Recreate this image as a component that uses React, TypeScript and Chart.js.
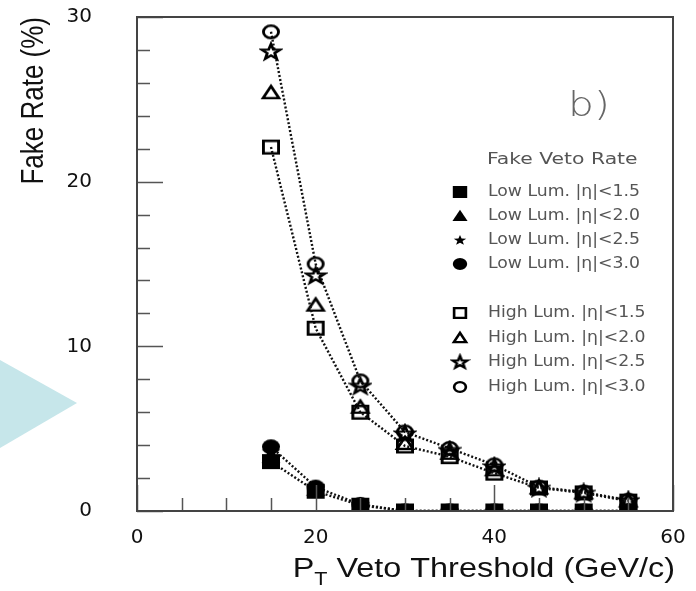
import React, { useEffect, useRef } from "react";
import { Chart, registerables } from "chart.js";

Chart.register(...registerables);

// ---------------- data ----------------
const thresholds = [15, 20, 25, 30, 35, 40, 45, 50, 55];

const lowEta15 = [3.0, 1.2, 0.35, 0, 0, 0, 0, 0, 0];
const lowEta20 = [3.3, 1.3, 0.35, 0, 0, 0, 0, 0, 0];
const lowEta25 = [3.6, 1.4, 0.4, 0, 0, 0, 0, 0, 0];
const lowEta30 = [3.9, 1.45, 0.4, 0, 0, 0, 0, 0, 0];

const highEta15 = [22.1, 11.1, 6.0, 3.95, 3.3, 2.3, 1.4, 1.1, 0.6];
const highEta20 = [25.4, 12.5, 6.3, 4.1, 3.5, 2.5, 1.4, 1.1, 0.6];
const highEta25 = [27.9, 14.3, 7.6, 4.7, 3.7, 2.7, 1.4, 1.1, 0.65];
const highEta30 = [29.1, 15.0, 7.9, 4.8, 3.8, 2.8, 1.45, 1.15, 0.65];

const lowLabels = ["Low Lum. |η|<1.5", "Low Lum. |η|<2.0", "Low Lum. |η|<2.5", "Low Lum. |η|<3.0"];
const highLabels = ["High Lum. |η|<1.5", "High Lum. |η|<2.0", "High Lum. |η|<2.5", "High Lum. |η|<3.0"];
const legendTitle = "Fake Veto Rate";
const panelLabel = "b)";

const xMin = 0;
const xMax = 60;
const xMajorStep = 20;
const xMinorStep = 5;
const yMin = 0;
const yMax = 30;
const yMajorStep = 10;
const yMinorStep = 2;

const xTitleMain = "P";
const xTitleSub = "T";
const xTitleRest = " Veto Threshold (GeV/c)";
const yTitle = "Fake Rate (%)";

// ---------------- styling helpers ----------------
const SX = 1.2; // the original picture is stretched horizontally

type Shape = "square" | "triangle" | "star" | "circle";

function shapePath(ctx: CanvasRenderingContext2D, shape: Shape, r: number) {
  ctx.beginPath();
  if (shape === "square") {
    ctx.rect(-r, -r, 2 * r, 2 * r);
  } else if (shape === "circle") {
    ctx.arc(0, 0, r, 0, Math.PI * 2);
  } else if (shape === "triangle") {
    ctx.moveTo(0, -r * 1.05);
    ctx.lineTo(r * 1.05, r * 0.85);
    ctx.lineTo(-r * 1.05, r * 0.85);
    ctx.closePath();
  } else {
    const inner = r * 0.45;
    for (let i = 0; i < 10; i++) {
      const rr = i % 2 === 0 ? r * 1.1 : inner;
      const a = -Math.PI / 2 + (i * Math.PI) / 5;
      const px = Math.cos(a) * rr;
      const py = Math.sin(a) * rr + r * 0.08;
      if (i === 0) ctx.moveTo(px, py);
      else ctx.lineTo(px, py);
    }
    ctx.closePath();
  }
}

function makeMarker(shape: Shape, filled: boolean, h: number, lw: number) {
  const c = document.createElement("canvas");
  const w = Math.round(h * SX) + 4;
  c.width = w;
  c.height = h + 4;
  const ctx = c.getContext("2d")!;
  ctx.translate(c.width / 2, c.height / 2);
  ctx.scale(SX, 1);
  const r = h / 2 - (filled ? 0 : lw / 2);
  shapePath(ctx, shape, r);
  ctx.fillStyle = "#000";
  ctx.strokeStyle = "#000";
  ctx.lineWidth = lw;
  ctx.lineJoin = "miter";
  if (filled) ctx.fill();
  else ctx.stroke();
  return c;
}

const shapes: Shape[] = ["square", "triangle", "star", "circle"];
const lowSeries = [lowEta15, lowEta20, lowEta25, lowEta30];
const highSeries = [highEta15, highEta20, highEta25, highEta30];

export default function App() {
  const ref = useRef<HTMLCanvasElement | null>(null);

  useEffect(() => {
    const canvas = ref.current;
    if (!canvas) return;

    const plotLow = shapes.map((s) => makeMarker(s, true, 15, 2));
    const plotHigh = shapes.map((s) => makeMarker(s, false, s === "star" ? 17 : 15, 2.4));
    const legLow = shapes.map((s) => makeMarker(s, true, s === "star" ? 10 : 12, 2));
    const legHigh = shapes.map((s) => makeMarker(s, false, s === "star" ? 14 : 12, 2.2));

    const withLine = [true, false, false, true];

    const datasets: any[] = [];
    const addSeries = (labels: string[], series: number[][], markers: HTMLCanvasElement[]) => {
      series.forEach((vals, i) => {
        datasets.push({
          label: labels[i],
          data: thresholds.map((x, k) => ({ x, y: vals[k] })),
          showLine: withLine[i],
          borderColor: "#111",
          borderWidth: 2.4,
          borderDash: [2, 2],
          pointStyle: markers[i],
          pointRadius: 7,
          backgroundColor: "transparent",
          clip: 0,
        });
      });
    };
    addSeries(lowLabels, lowSeries, plotLow);
    addSeries(highLabels, highSeries, plotHigh);

    const decor = {
      id: "decor",
      beforeDraw(chart: any) {
        const ctx = chart.ctx as CanvasRenderingContext2D;
        ctx.save();
        ctx.fillStyle = "#ffffff";
        ctx.fillRect(0, 0, chart.width, chart.height);
        // decorative cyan arrow at the left edge
        ctx.fillStyle = "#c6e6ea";
        ctx.beginPath();
        ctx.moveTo(0, 360);
        ctx.lineTo(77, 403);
        ctx.lineTo(0, 448);
        ctx.closePath();
        ctx.fill();
        ctx.restore();
      },
      afterDraw(chart: any) {
        const ctx = chart.ctx as CanvasRenderingContext2D;
        const a = chart.chartArea;
        const xs = chart.scales.x;
        const ys = chart.scales.y;
        ctx.save();

        // inward ticks
        ctx.strokeStyle = "#555";
        ctx.lineWidth = 1.5;
        ctx.beginPath();
        for (let v = xMin; v <= xMax; v += xMinorStep) {
          const px = Math.round(xs.getPixelForValue(v)) + 0.5;
          const len = v % xMajorStep === 0 ? 26 : 13;
          ctx.moveTo(px, a.bottom);
          ctx.lineTo(px, a.bottom - len);
        }
        for (let v = yMin; v <= yMax; v += yMinorStep) {
          const py = Math.round(ys.getPixelForValue(v)) + 0.5;
          const len = v % yMajorStep === 0 ? 26 : 13;
          ctx.moveTo(a.left, py);
          ctx.lineTo(a.left + len, py);
        }
        ctx.stroke();

        // frame
        ctx.strokeStyle = "#444";
        ctx.lineWidth = 2;
        ctx.strokeRect(a.left, a.top, a.right - a.left, a.bottom - a.top);

        // y title
        ctx.fillStyle = "#111";
        ctx.save();
        ctx.translate(34, a.top);
        ctx.scale(SX, 1);
        ctx.rotate(-Math.PI / 2);
        ctx.font = '26px "Liberation Sans", Arial, sans-serif';
        ctx.textAlign = "right";
        ctx.textBaseline = "middle";
        ctx.fillText(yTitle, 0, 0);
        ctx.restore();

        // x title with subscript
        ctx.save();
        const big = '27px "Liberation Sans", Arial, sans-serif';
        const small = '18px "Liberation Sans", Arial, sans-serif';
        ctx.font = big;
        const wP = ctx.measureText(xTitleMain).width;
        const wR = ctx.measureText(xTitleRest).width;
        ctx.font = small;
        const wT = ctx.measureText(xTitleSub).width;
        const total = (wP + wT + wR) * SX;
        const startX = a.right + 2 - total;
        const base = 577;
        ctx.translate(startX, base);
        ctx.scale(SX, 1);
        ctx.textAlign = "left";
        ctx.textBaseline = "alphabetic";
        ctx.font = big;
        ctx.fillText(xTitleMain, 0, 0);
        ctx.font = small;
        ctx.fillText(xTitleSub, wP, 8);
        ctx.font = big;
        ctx.fillText(xTitleRest, wP + wT, 0);
        ctx.restore();

        // legend
        const legFont = '15px "DejaVu Sans", sans-serif';
        ctx.fillStyle = "#555";
        ctx.textBaseline = "middle";
        ctx.textAlign = "left";
        const drawText = (t: string, x: number, y: number, font: string, sx: number) => {
          ctx.save();
          ctx.translate(x, y);
          ctx.scale(sx, 1);
          ctx.font = font;
          ctx.fillText(t, 0, 0);
          ctx.restore();
        };
        drawText(legendTitle, 487, 160, '16px "DejaVu Sans", sans-serif', 1.27);
        const lowRows = [192, 216, 240, 264];
        const highRows = [313, 338, 362, 387];
        lowLabels.forEach((t, i) => {
          const m = legLow[i];
          ctx.drawImage(m, 460 - m.width / 2, lowRows[i] - m.height / 2);
          drawText(t, 488, lowRows[i], legFont, 1.15);
        });
        highLabels.forEach((t, i) => {
          const m = legHigh[i];
          ctx.drawImage(m, 460 - m.width / 2, highRows[i] - m.height / 2);
          drawText(t, 488, highRows[i], legFont, 1.15);
        });

        // panel label
        ctx.fillStyle = "#666";
        ctx.save();
        ctx.translate(568, 107);
        ctx.scale(SX, 1);
        ctx.font = '200 34px "DejaVu Sans", sans-serif';
        ctx.textBaseline = "middle";
        ctx.fillText(panelLabel, 0, 0);
        ctx.restore();

        ctx.restore();
      },
    };

    const chart = new Chart(canvas, {
      type: "scatter",
      data: { datasets },
      options: {
        animation: false,
        responsive: false,
        maintainAspectRatio: false,
        devicePixelRatio: 1,
        layout: { padding: { left: 0, top: 17, right: 23, bottom: 0 } },
        plugins: { legend: { display: false }, tooltip: { enabled: false } },
        scales: {
          x: {
            type: "linear",
            min: xMin,
            max: xMax,
            grid: { display: false },
            border: { display: false },
            ticks: {
              stepSize: xMajorStep,
              color: "#111",
              padding: 7,
              maxRotation: 0,
              font: { family: '"DejaVu Sans", sans-serif', size: 20 },
            },
            afterFit: (s: any) => {
              s.height = 80;
              s.paddingLeft = 0;
              s.paddingRight = 0;
            },
          },
          y: {
            type: "linear",
            min: yMin,
            max: yMax,
            grid: { display: false },
            border: { display: false },
            ticks: {
              stepSize: yMajorStep,
              color: "#111",
              padding: 37,
              font: { family: '"DejaVu Sans", sans-serif', size: 20 },
            },
            afterFit: (s: any) => {
              s.width = 137;
              s.paddingTop = 0;
              s.paddingBottom = 0;
            },
          },
        },
      },
      plugins: [decor],
    } as any);

    return () => chart.destroy();
  }, []);

  return (
    <div style={{ position: "fixed", left: 0, top: 0, width: 696, height: 591, background: "#fff" }}>
      <canvas ref={ref} width={696} height={591} />
    </div>
  );
}
